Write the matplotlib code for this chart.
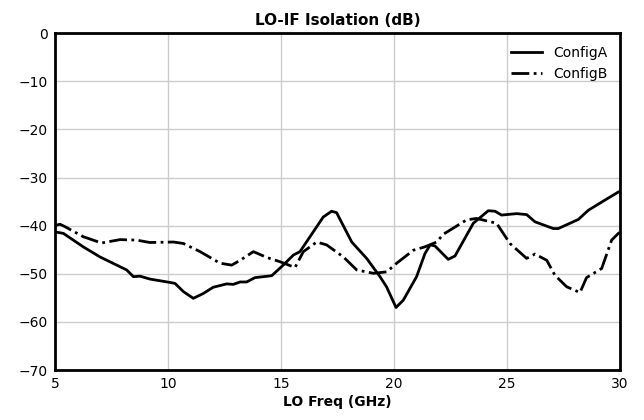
import matplotlib
matplotlib.use("Agg")
import matplotlib.pyplot as plt

a_x = [5.0, 5.37, 6.25, 6.99, 8.17, 8.47, 8.76, 9.2, 10.09, 10.31, 10.68, 11.12, 11.56, 12.0, 12.6, 12.89,
       13.19, 13.48, 13.85, 14.59, 15.1, 15.55, 15.84, 16.87, 17.24, 17.46, 18.13, 18.79, 19.38, 19.67,
       20.09, 20.41, 21.0, 21.37, 21.6, 21.81, 22.4, 22.7, 23.51, 24.17, 24.47, 24.76, 25.43, 25.87,
       26.24, 27.05, 27.27, 28.16, 28.6, 29.26, 29.93, 30.0]
a_y = [-41.3, -41.6, -44.4, -46.5, -49.2, -50.6, -50.5, -51.1, -51.8, -52.0, -53.7, -55.1, -54.1, -52.8, -52.1, -52.2,
       -51.7, -51.7, -50.8, -50.4, -48.2, -46.1, -45.4, -38.2, -37.0, -37.3, -43.4, -46.8, -50.6, -52.7,
       -57.0, -55.5, -50.6, -45.8, -44.0, -44.2, -47.0, -46.3, -39.5, -36.9, -37.0, -37.8, -37.5, -37.7,
       -39.2, -40.6, -40.6, -38.7, -36.8, -34.9, -33.0, -32.9]

b_x = [5.0, 5.22, 5.44, 6.25, 7.06, 7.88, 8.61, 9.2, 10.24, 10.68, 11.42, 12.3, 12.82, 13.19, 13.78, 14.37,
       14.96, 15.62, 15.99, 16.58, 17.02, 17.76, 18.35, 19.09, 19.68, 20.12, 20.86, 21.37, 21.89, 22.18,
       23.21, 23.65, 24.54, 25.13, 25.87, 26.24, 26.76, 27.12, 27.64, 28.23, 28.52, 29.19, 29.63, 29.93, 30.0]
b_y = [-40.0, -39.7, -40.2, -42.3, -43.6, -42.9, -43.0, -43.5, -43.4, -43.7, -45.4, -47.8, -48.2, -47.2, -45.4, -46.6,
       -47.5, -48.7, -45.4, -43.4, -44.0, -46.5, -49.2, -49.9, -49.6, -47.8, -45.1, -44.4, -43.4, -41.8,
       -38.8, -38.5, -39.5, -43.7, -46.8, -45.9, -47.2, -50.3, -52.7, -53.9, -50.8, -48.9, -43.0, -41.6, -41.4]

x_ticks = [5, 10, 15, 20, 25, 30]
y_ticks = [0, -10, -20, -30, -40, -50, -60, -70]

fig = plt.figure(figsize=(6.44, 4.2), dpi=100)
ax = fig.add_axes([0.0854, 0.119, 0.8773, 0.802])
ax.plot(a_x, a_y, color="black", lw=2, ls="-", label="ConfigA")
ax.plot(b_x, b_y, color="black", lw=2, ls="-.", label="ConfigB")
ax.set_xlim(5, 30)
ax.set_ylim(-70, 0)
ax.set_xticks(x_ticks)
ax.set_yticks(y_ticks)
ax.set_yticklabels([f"\u2212{abs(t)}" if t < 0 else str(t) for t in y_ticks])
ax.grid(True, color="#cccccc", lw=1)
ax.set_axisbelow(True)
for s in ax.spines.values():
    s.set_linewidth(2)
    s.set_color("black")
ax.tick_params(labelsize=10, length=0, pad=5)
ax.set_xlabel("LO Freq (GHz)", fontweight="bold", fontsize=10, labelpad=3)
ax.set_title("LO-IF Isolation (dB)", fontweight="bold", fontsize=11, pad=6)
ax.legend(loc="upper right", frameon=False, fontsize=10, handlelength=2.2)
fig.savefig("out.png", dpi=100)
